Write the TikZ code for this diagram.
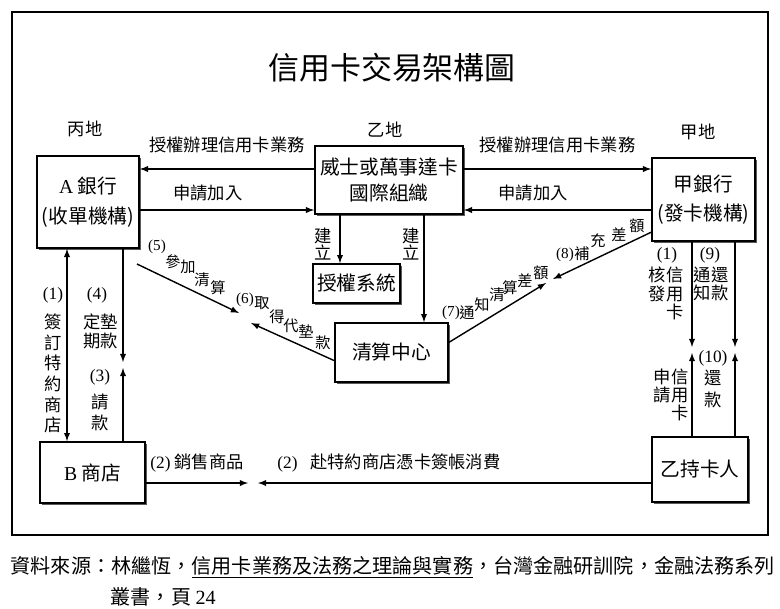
\documentclass[tikz,border=0pt]{standalone}
\usepackage{fontspec}
\setmainfont{Noto Sans CJK TC}
\newfontfamily\lat{Liberation Serif}
\usepackage{tikz}
\usetikzlibrary{arrows,shadows}
\newcommand\nr[1]{{\lat(#1)}}
\newcommand\fs[2]{\fontsize{#1}{#2}\selectfont}

\begin{document}
\begin{tikzpicture}[x=0.025cm,y=-0.025cm,line width=1pt]
\useasboundingbox (0,0) rectangle (780,608);
\tikzstyle{lbl}=[inner sep=0pt,font=\fs{12.3}{13}]
\tikzstyle{vlbl}=[lbl,align=center]
\tikzstyle{stair}=[inner sep=0pt,font=\fs{10.8}{12}]
\draw[line width=1.1pt] (12,12) rectangle (768,535); %%
\node[font=\fs{22}{24}] (title) at (392,68) {信用卡交易架構圖}; %%
\node[lbl] (placeC) at (85,129) {丙地}; %%
\node[lbl] (placeB) at (385,130) {乙地}; %%
\node[lbl] (placeA) at (698,132) {甲地}; %%
\begin{scope}[font=\fs{14}{21}]
\tikzstyle{every node}=[draw,line width=1.2pt,fill=white,align=center,inner sep=0pt,
  drop shadow={shadow xshift=1.3pt,shadow yshift=-1.3pt,fill=black!65,opacity=1}] %%
\node[minimum width=2.55cm,minimum height=2.3cm] (bankA) at (88,202) {{\lat A} 銀行\\(收單機構)}; %%
\node[minimum width=3.7cm,minimum height=1.7cm,font=\fs{14}{19}] (visa) at (389,180) {威士或萬事達卡\\國際組織}; %%
\node[minimum width=2.575cm,minimum height=2.075cm] (bankJ) at (703.5,199.5) {甲銀行\\(發卡機構)}; %%
\node[minimum width=2.175cm,minimum height=0.975cm] (auth) at (356.5,283.5) {授權系統}; %%
\node[minimum width=2.825cm,minimum height=1.475cm] (clear) at (391.5,352.5) {清算中心}; %%
\node[minimum width=2.625cm,minimum height=1.525cm] (shopB) at (92.5,472.5) {{\lat B} 商店}; %%
\node[minimum width=2.4cm,minimum height=1.625cm] (holder) at (700,469.5) {乙持卡人};
\end{scope}
% rows, columns and free ends
\coordinate (rowU) at (0,169); \coordinate (rowL) at (0,210); %%
\coordinate (colA) at (340,0); \coordinate (colB) at (424,0); \coordinate (colL) at (67,0); %%
\coordinate (e4) at (123,362); \coordinate (e3) at (123,368); %%
\coordinate (e1) at (692,347); \coordinate (e9) at (735,347); %%
\coordinate (e11) at (692,353); \coordinate (e10) at (735,353); %%
\coordinate (e2a) at (248,483); \coordinate (e2b) at (258,483); %%
\coordinate (s5) at (137,264); \coordinate (e5) at (239,313); %%
\coordinate (e6) at (251,323); \coordinate (e7) at (546,283); \coordinate (e8) at (553,279); %%
\draw[->,-latex] (visa.west |- rowU)--(bankA.east |- rowU) node[midway,above=11pt,lbl] (auL) {授權辦理信用卡業務}; %%
\draw[->,-latex] (bankA.east |- rowL)--(visa.west |- rowL) node[pos=.39,above=6pt,lbl] (joinL) {申請加入}; %%
\draw[->,-latex] (visa.east |- rowU)--(bankJ.west |- rowU) node[midway,above=11pt,lbl] (auR) {授權辦理信用卡業務}; %%
\draw[->,-latex] (bankJ.west |- rowL)--(visa.east |- rowL) node[pos=.63,above=6pt,lbl] (joinR) {申請加入}; %%
\draw[->,-latex] (visa.south -| colA)--(auth.north -| colA); %%
\draw[->,-latex] (visa.south -| colB)--(clear.north -| colB); %%
\node[vlbl,font=\fs{12.3}{12.5}] (bldL) at (323,244) {建\\立}; %%
\node[vlbl,font=\fs{12.3}{12.5}] (bldR) at (411,244) {建\\立}; %%
\draw[latex-latex] (bankA.south -| colL)--(shopB.north -| colL); %%
\draw[->,-latex] (bankA.south -| e4)--(e4); %%
\draw[->,-latex] (shopB.north -| e3)--(e3); %%
\node[lbl] (n1L) at (53,295) {\nr{1}}; %%
\node[vlbl,font=\fs{12.3}{14.7}] (signL) at (53,373.5) {簽\\訂\\特\\約\\商\\店}; %%
\node[lbl] (n4) at (97,295) {\nr{4}}; %%
\node[vlbl,font=\fs{12.3}{13.5}] (payL) at (100.5,331.5) {定墊\\期款}; %%
\node[lbl] (n3) at (100,377) {\nr{3}}; %%
\node[vlbl,font=\fs{12.3}{15}] (askL) at (100,412.5) {請\\款}; %%
\draw[->,-latex] (bankJ.south -| e1)--(e1); %%
\draw[->,-latex] (bankJ.south -| e9)--(e9); %%
\draw[->,-latex] (holder.north -| e11)--(e11); %%
\draw[->,-latex] (holder.north -| e10)--(e10); %%
\node[lbl] (n1R) at (667,255) {\nr{1}}; %%
\node[lbl,align=right,font=\fs{12.3}{13.2}] (issue) at (666,293.5) {核信\\發用\\卡}; %%
\node[lbl] (n9) at (710,255) {\nr{9}}; %%
\node[vlbl,font=\fs{12.3}{12.8}] (notice) at (711,284) {通還\\知款}; %%
\node[lbl,align=right,font=\fs{12.3}{12.8}] (apply) at (671,395) {申信\\請用\\卡}; %%
\node[lbl] (n10) at (713,358) {\nr{10}}; %%
\node[vlbl,font=\fs{12.3}{15.6}] (repay) at (713,389) {還\\款}; %%
\draw[->,-latex] (shopB.east |- e2a)--(e2a); %%
\draw[->,-latex] (holder.west |- e2b)--(e2b); %%
\node[lbl] (sell) at (197,463) {\nr{2} 銷售商品}; %%
\node[lbl] (buy) at (389,463) {\nr{2}\hspace{9pt}赴特約商店憑卡簽帳消費}; %%
\draw[->,-latex] (s5)--(e5); %%
\draw[->,-latex] (clear.188)--(e6); %%
\draw[->,-latex] (clear.10)--(e7); %%
\draw[->,-latex] (bankJ.212)--(e8); %%
\foreach \c/\x/\y [count=\i] in {\nr{5}/157/247,參/173/262,加/188/267,清/202/280,算/218/288}
  \node[stair] (st5\i) at (\x,\y) {\c}; %%
\foreach \c/\x/\y [count=\i] in {\nr{6}/245/300,取/262/303,得/277/317,代/291/326,墊/306/332,款/323/343}
  \node[stair] (st6\i) at (\x,\y) {\c}; %%
\foreach \c/\x/\y [count=\i] in {\nr{7}/451/313,通/467/313,知/482/305,清/497/295,算/510/288,差/525/281,額/541/273}
  \node[stair] (st7\i) at (\x,\y) {\c}; %%
\foreach \c/\x/\y [count=\i] in {\nr{8}/565/255,補/582/254,充/598/241,差/619/235,額/637/226}
  \node[stair] (st8\i) at (\x,\y) {\c}; %%
\node[anchor=west,inner sep=0pt,font=\fs{14.3}{16}] (src1) at (10,567) {資料來源：林繼恆，\underline{信用卡業務及法務之理論與實務}，台灣金融研訓院，金融法務系列}; %%
\node[anchor=west,inner sep=0pt,font=\fs{14.3}{16}] (src2) at (110,597) {叢書，頁 {\lat 24}};
\end{tikzpicture}
\end{document}
